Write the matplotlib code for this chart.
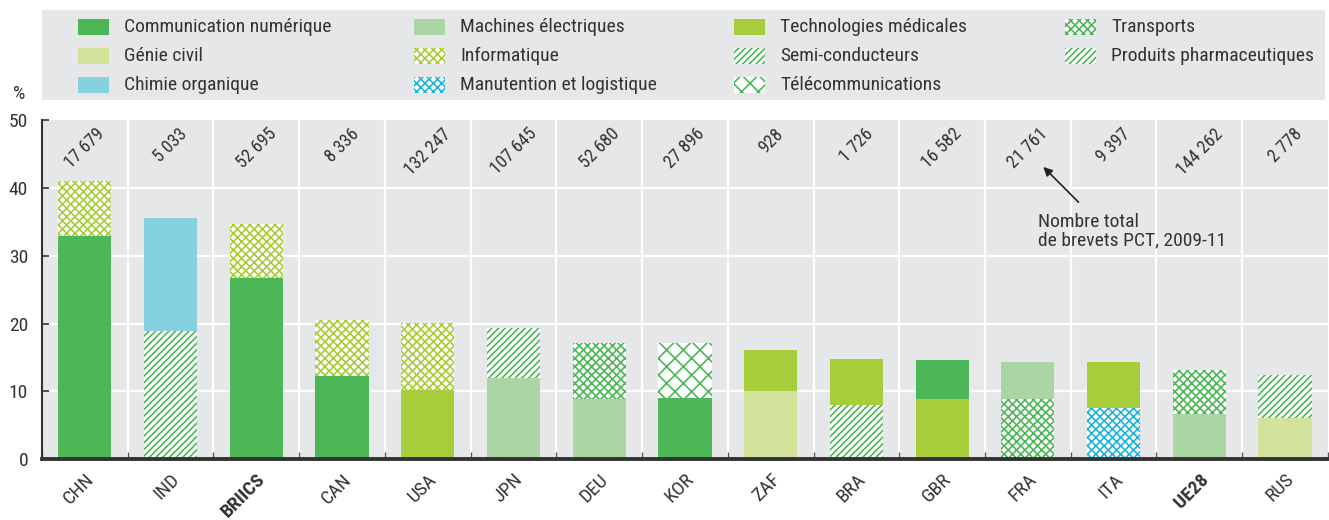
import matplotlib
matplotlib.use("Agg")
import matplotlib.pyplot as plt
import matplotlib.transforms as mtransforms
from matplotlib.patches import Rectangle
from matplotlib.ticker import FixedLocator

plt.rcParams['font.family'] = ['Roboto Condensed', 'Liberation Sans Narrow',
                               'Roboto', 'DejaVu Sans']
plt.rcParams['font.stretch'] = 'condensed'
plt.rcParams['hatch.linewidth'] = 1.2

# Data
countries = ["CHN", "IND", "BRIICS", "CAN", "USA", "JPN", "DEU", "KOR",
             "ZAF", "BRA", "GBR", "FRA", "ITA", "UE28", "RUS"]
bold_labels = ["BRIICS", "UE28"]
totals = ["17 679", "5 033", "52 695", "8 336", "132 247", "107 645", "52 680",
          "27 896", "928", "1 726", "16 582", "21 761", "9 397", "144 262", "2 778"]

bottom_sector = ["Communication numérique", "Produits pharmaceutiques",
                 "Communication numérique", "Communication numérique",
                 "Technologies médicales", "Machines électriques",
                 "Machines électriques", "Communication numérique",
                 "Génie civil", "Produits pharmaceutiques",
                 "Technologies médicales", "Transports",
                 "Manutention et logistique", "Machines électriques",
                 "Génie civil"]
bottom_share = [32.9, 18.9, 26.7, 12.2, 10.2, 11.9, 8.8, 9.0,
                10.0, 8.0, 8.8, 8.8, 7.5, 6.6, 6.0]

top_sector = ["Informatique", "Chimie organique", "Informatique", "Informatique",
              "Informatique", "Semi-conducteurs", "Transports",
              "Télécommunications", "Technologies médicales",
              "Technologies médicales", "Communication numérique",
              "Machines électriques", "Technologies médicales", "Transports",
              "Produits pharmaceutiques"]
top_share = [8.1, 16.6, 8.0, 8.3, 9.9, 7.4, 8.3, 8.1,
             6.1, 6.7, 5.8, 5.5, 6.9, 6.5, 6.4]

legend_order = ["Communication numérique", "Génie civil", "Chimie organique",
                "Machines électriques", "Informatique", "Manutention et logistique",
                "Technologies médicales", "Semi-conducteurs", "Télécommunications",
                "Transports", "Produits pharmaceutiques"]

# sector -> (face colour, hatch, hatch colour)
styles = {
    "Communication numérique": ("#4db757", None, None),
    "Génie civil": ("#d2e29b", None, None),
    "Chimie organique": ("#85d1e0", None, None),
    "Machines électriques": ("#abd6a3", None, None),
    "Informatique": ("white", "xxxx", "#a7cd3a"),
    "Manutention et logistique": ("white", "xxxx", "#1fb3d9"),
    "Technologies médicales": ("#a7cd3a", None, None),
    "Semi-conducteurs": ("white", "/////", "#4db757"),
    "Télécommunications": ("white", "xx", "#4db757"),
    "Transports": ("white", "xxxx", "#4db757"),
    "Produits pharmaceutiques": ("white", "/////", "#4db757"),
}

text_col = "#333333"
bg_col = "#e6e7e8"


def style_kw(sector):
    face, hatch, hcol = styles[sector]
    if hatch is None:
        return dict(facecolor=face, edgecolor="none", linewidth=0)
    return dict(facecolor=face, hatch=hatch, edgecolor=hcol, linewidth=0)


fig = plt.figure(figsize=(13.29, 5.2), dpi=100)
ax = fig.add_axes([0.0316, 0.117, 0.9676, 0.652])
ax.set_facecolor(bg_col)

x = list(range(len(countries)))
width = 0.62
for i in x:
    ax.bar(i, bottom_share[i], width, **style_kw(bottom_sector[i]), zorder=3)
    ax.bar(i, top_share[i], width, bottom=bottom_share[i],
           **style_kw(top_sector[i]), zorder=3)
    ax.text(i, 49.3, totals[i], rotation=45, ha="center", va="top",
            fontsize=13, color=text_col, zorder=4)

ax.set_xlim(-0.5, len(countries) - 0.5)
ax.set_ylim(0, 50)
ax.set_yticks([0, 10, 20, 30, 40, 50])
ax.set_xticks(x)
ax.set_xticklabels(countries, rotation=45, ha="right", rotation_mode="anchor",
                   fontsize=14, color=text_col)
shift = mtransforms.ScaledTranslation(0.05, 0, fig.dpi_scale_trans)
for lab in ax.get_xticklabels():
    lab.set_transform(lab.get_transform() + shift)
    if lab.get_text() in bold_labels:
        lab.set_fontweight("bold")
ax.tick_params(axis="x", length=0, pad=8)
ax.xaxis.set_minor_locator(FixedLocator([i + 0.5 for i in range(-1, len(countries))]))
ax.tick_params(axis="x", which="minor", direction="in", length=5, width=1,
               color="#555555")
ax.tick_params(axis="y", direction="in", length=5, width=1.2, color=text_col,
               labelsize=14, labelcolor=text_col, pad=10)

# white grid
for yv in [10, 20, 30, 40]:
    ax.axhline(yv, color="white", lw=1.6, zorder=1)
for xv in [i + 0.5 for i in range(len(countries) - 1)]:
    ax.axvline(xv, color="white", lw=1.6, zorder=1)

for s in ["top", "right"]:
    ax.spines[s].set_visible(False)
ax.spines["left"].set_color(text_col)
ax.spines["left"].set_linewidth(1.5)
ax.spines["bottom"].set_color(text_col)
ax.spines["bottom"].set_linewidth(2.8)
ax.spines["bottom"].set_zorder(5)

fig.text(19 / 1329, 1 - 94 / 520, "%", ha="center", va="center",
         fontsize=14, color=text_col)

# annotation for the totals
ax.annotate("", xy=(11.18, 43.1), xytext=(11.59, 37.9),
            arrowprops=dict(arrowstyle="-|>", color="#222222", lw=1.2,
                            shrinkA=0, shrinkB=0, mutation_scale=13), zorder=6)
ax.text(11.12, 36.3, "Nombre total\nde brevets PCT, 2009-11", ha="left",
        va="top", fontsize=14, color=text_col, linespacing=1.05, zorder=6)

# legend box
W, H = 1329, 520
fig.patches.append(Rectangle((42 / W, 1 - 100 / H), 1283 / W, 90 / H,
                             transform=fig.transFigure, facecolor=bg_col,
                             edgecolor="none", zorder=0))
col_x = [78, 414, 734, 1065]
row_y = [27, 56, 85]
for k, name in enumerate(legend_order):
    c, r = k // 3, k % 3
    hx, hy = col_x[c], row_y[r]
    fig.patches.append(Rectangle((hx / W, 1 - (hy + 8) / H), 31 / W, 16 / H,
                                 transform=fig.transFigure, zorder=1,
                                 **style_kw(name)))
    fig.text((hx + 46) / W, 1 - hy / H, name, ha="left", va="center",
             fontsize=14, color=text_col)

fig.savefig("out.png", dpi=100)
